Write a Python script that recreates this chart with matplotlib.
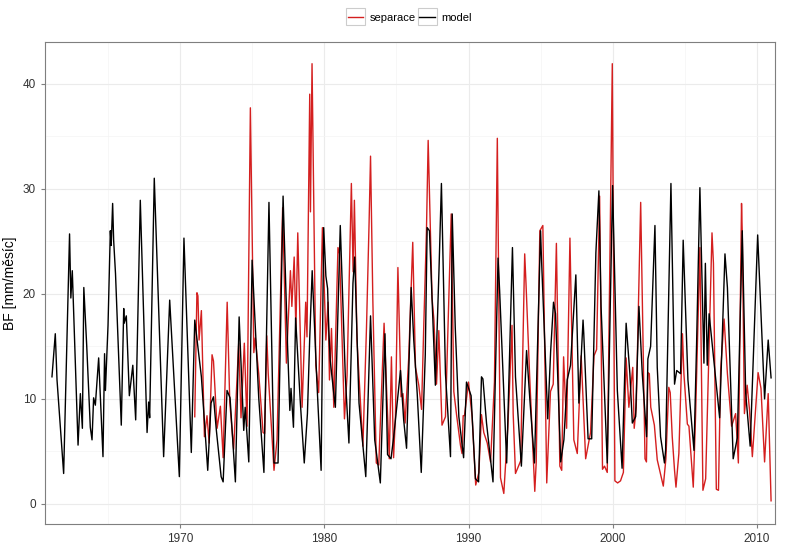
import matplotlib
matplotlib.use("Agg")
import matplotlib.pyplot as plt
from matplotlib.patches import Rectangle
from matplotlib.ticker import MultipleLocator

# model (black): fractional year, BF [mm/month]
model_t = [
    1961.09, 1961.32, 1961.44, 1961.9, 1962.31, 1962.4, 1962.5, 1962.9, 1963.06, 1963.2,
    1963.3, 1963.5, 1963.75, 1963.87, 1963.98, 1964.1, 1964.33, 1964.63, 1964.74, 1964.8,
    1964.98, 1965.14, 1965.2, 1965.3, 1965.37, 1965.5, 1965.9, 1966.07, 1966.1, 1966.25,
    1966.46, 1966.7, 1966.9, 1967.22, 1967.69, 1967.8, 1967.87, 1968.19, 1968.84, 1969.26,
    1969.93, 1970.25, 1970.76, 1971.0, 1971.46, 1971.9, 1972.13, 1972.3, 1972.5, 1972.83,
    1972.97, 1973.24, 1973.45, 1973.82, 1974.08, 1974.4, 1974.5, 1974.75, 1974.98, 1975.44,
    1975.8, 1976.15, 1976.5, 1976.78, 1977.13, 1977.44, 1977.6, 1977.68, 1977.85, 1978.0,
    1978.33, 1978.6, 1978.82, 1978.98, 1979.15, 1979.47, 1979.77, 1979.95, 1980.1, 1980.22,
    1980.3, 1980.4, 1980.65, 1980.76, 1981.1, 1981.45, 1981.7, 1981.98, 1982.1, 1982.4,
    1982.87, 1983.2, 1983.49, 1983.88, 1984.2, 1984.38, 1984.62, 1984.8, 1985.28, 1985.5,
    1985.7, 1986.02, 1986.2, 1986.44, 1986.72, 1987.0, 1987.13, 1987.29, 1987.7, 1987.95,
    1988.12, 1988.4, 1988.75, 1988.87, 1989.08, 1989.33, 1989.66, 1989.86, 1990.18, 1990.48,
    1990.7, 1990.9, 1991.0, 1991.25, 1991.7, 1992.05, 1992.16, 1992.65, 1993.05, 1993.26,
    1993.67, 1994.03, 1994.26, 1994.58, 1995.0, 1995.07, 1995.5, 1995.7, 1995.9, 1996.04,
    1996.4, 1996.62, 1996.85, 1997.08, 1997.45, 1997.66, 1997.95, 1998.0, 1998.3, 1998.55,
    1998.84, 1999.05, 1999.2, 1999.63, 2000.0, 2000.33, 2000.66, 2000.94, 2001.2, 2001.37,
    2001.6, 2001.83, 2002.06, 2002.36, 2002.45, 2002.64, 2002.94, 2003.1, 2003.33, 2003.6,
    2003.68, 2004.05, 2004.3, 2004.45, 2004.72, 2004.9, 2005.23, 2005.65, 2005.83, 2006.06,
    2006.34, 2006.44, 2006.57, 2006.7, 2007.43, 2007.8, 2007.97, 2008.37, 2008.66, 2009.0,
    2009.24, 2009.55, 2010.07, 2010.55, 2010.8, 2011.0,
]
model_v = [
    12.1, 16.2, 11.8, 2.9, 25.7, 19.6, 22.2, 5.6, 10.5, 7.2,
    20.6, 15.1, 7.3, 6.1, 10.1, 9.4, 13.9, 4.5, 14.3, 10.8,
    17.0, 26.0, 24.6, 28.6, 25.1, 21.9, 7.5, 18.6, 17.2, 17.9,
    10.3, 13.2, 8.0, 28.9, 6.8, 9.7, 8.2, 31.0, 4.5, 19.4,
    2.6, 25.3, 4.9, 17.5, 12.1, 3.2, 9.6, 10.2, 7.0, 2.6,
    2.1, 10.8, 10.1, 2.1, 17.8, 7.0, 9.2, 4.0, 23.2, 10.1,
    3.0, 28.7, 3.9, 3.9, 29.3, 15.1, 8.9, 11.0, 7.3, 17.7,
    9.6, 3.9, 8.6, 15.8, 22.2, 11.8, 3.2, 26.3, 21.7, 20.5,
    16.7, 13.7, 10.5, 9.2, 26.5, 12.1, 5.8, 21.0, 23.5, 9.6,
    2.6, 17.9, 6.1, 2.0, 16.2, 4.7, 4.3, 6.3, 12.7, 8.0,
    5.3, 20.6, 15.6, 10.5, 3.0, 14.2, 26.3, 26.0, 11.3, 22.2,
    30.5, 12.4, 4.5, 27.6, 16.8, 8.3, 4.4, 11.6, 10.3, 2.4,
    2.1, 12.1, 11.9, 7.7, 2.1, 23.4, 20.3, 3.9, 24.4, 12.1,
    3.6, 14.6, 9.9, 3.9, 26.0, 23.2, 8.1, 14.5, 19.2, 18.1,
    4.0, 6.1, 11.8, 13.2, 21.8, 9.6, 17.5, 16.2, 6.2, 6.2,
    23.9, 29.8, 18.8, 3.9, 30.3, 10.8, 3.4, 17.2, 12.4, 7.7,
    8.3, 18.8, 12.4, 6.4, 13.8, 15.0, 26.5, 13.0, 6.4, 3.9,
    5.1, 30.5, 11.4, 12.7, 12.4, 25.1, 11.8, 5.1, 15.2, 30.1,
    13.4, 22.9, 13.2, 18.1, 8.2, 23.8, 20.6, 4.3, 6.3, 26.0,
    10.5, 5.5, 25.6, 10.0, 15.6, 12.0,
]

# separace (red)
sep_t = [
    1971.0, 1971.15, 1971.22, 1971.3, 1971.46, 1971.67, 1971.85, 1972.0, 1972.2, 1972.3,
    1972.55, 1972.78, 1972.97, 1973.25, 1973.43, 1973.7, 1974.05, 1974.21, 1974.44, 1974.63,
    1974.86, 1975.1, 1975.2, 1975.44, 1975.74, 1975.85, 1976.0, 1976.1, 1976.5, 1976.71,
    1977.1, 1977.36, 1977.64, 1977.74, 1977.9, 1978.02, 1978.15, 1978.45, 1978.7, 1978.79,
    1978.98, 1979.03, 1979.14, 1979.4, 1979.6, 1979.86, 1980.1, 1980.25, 1980.35, 1980.49,
    1980.65, 1980.94, 1981.05, 1981.39, 1981.57, 1981.87, 1981.99, 1982.08, 1982.26, 1982.67,
    1982.92, 1983.1, 1983.2, 1983.36, 1983.6, 1983.77, 1984.14, 1984.5, 1984.65, 1984.8,
    1984.93, 1985.1, 1985.32, 1985.45, 1985.6, 1985.85, 1986.13, 1986.32, 1986.55, 1986.74,
    1986.9, 1987.08, 1987.2, 1987.47, 1987.6, 1987.78, 1987.94, 1988.16, 1988.4, 1988.8,
    1988.98, 1989.17, 1989.44, 1989.55, 1989.63, 1989.72, 1990.0, 1990.25, 1990.5, 1990.72,
    1990.9, 1991.06, 1991.3, 1991.53, 1991.8, 1992.0, 1992.1, 1992.22, 1992.45, 1992.73,
    1993.02, 1993.1, 1993.26, 1993.62, 1993.9, 1993.99, 1994.24, 1994.6, 1994.7, 1994.95,
    1995.16, 1995.43, 1995.69, 1995.88, 1996.1, 1996.34, 1996.47, 1996.6, 1996.81, 1997.04,
    1997.31, 1997.55, 1997.82, 1998.13, 1998.47, 1998.71, 1998.89, 1999.1, 1999.3, 1999.44,
    1999.63, 1999.98, 2000.16, 2000.35, 2000.55, 2000.75, 2000.94, 2001.13, 2001.4, 2001.5,
    2001.64, 2001.95, 2002.25, 2002.35, 2002.45, 2002.55, 2002.65, 2002.9, 2003.1, 2003.52,
    2003.7, 2003.9, 2004.0, 2004.14, 2004.3, 2004.4, 2004.6, 2004.85, 2004.95, 2005.19,
    2005.3, 2005.6, 2005.76, 2006.06, 2006.27, 2006.46, 2006.9, 2007.0, 2007.2, 2007.35,
    2007.5, 2007.74, 2007.97, 2008.26, 2008.54, 2008.73, 2008.95, 2009.0, 2009.15, 2009.34,
    2009.5, 2009.7, 2010.1, 2010.3, 2010.55, 2010.8, 2011.0,
]
sep_v = [
    8.3, 20.1, 19.8, 15.6, 18.4, 6.4, 8.4, 5.8, 14.2, 13.6,
    7.2, 9.3, 4.4, 19.2, 9.7, 5.2, 15.3, 8.2, 15.3, 7.4,
    37.7, 14.4, 15.8, 12.4, 6.8, 6.7, 16.0, 12.4, 3.2, 6.1,
    28.2, 13.4, 22.2, 18.8, 23.5, 16.5, 25.8, 9.2, 19.2, 15.9,
    39.0, 27.8, 41.9, 13.2, 10.6, 26.3, 15.6, 19.2, 11.8, 16.7,
    9.2, 24.4, 23.8, 8.1, 12.2, 30.5, 22.1, 28.9, 15.6, 5.5,
    16.8, 26.8, 33.1, 19.4, 3.9, 3.7, 17.2, 4.3, 14.0, 4.4,
    8.4, 22.5, 10.2, 10.5, 7.7, 13.9, 24.9, 13.0, 11.3, 9.0,
    17.2, 25.9, 34.6, 19.6, 17.5, 11.4, 16.5, 7.5, 8.3, 27.6,
    10.7, 8.5, 5.6, 4.8, 8.4, 8.4, 11.6, 8.3, 1.8, 3.0,
    8.5, 6.8, 5.8, 4.0, 11.6, 34.8, 20.3, 2.5, 1.0, 7.3,
    17.0, 8.6, 2.9, 4.1, 23.8, 21.0, 12.3, 1.2, 4.0, 26.0,
    26.5, 2.0, 10.7, 11.4, 24.8, 3.6, 3.2, 14.0, 7.2, 25.3,
    6.1, 4.8, 14.1, 4.3, 6.8, 14.1, 14.7, 29.3, 3.3, 3.6,
    3.0, 41.9, 2.2, 2.0, 2.2, 3.0, 13.9, 9.2, 13.0, 7.2,
    9.2, 28.7, 4.3, 4.0, 12.5, 12.4, 9.2, 7.5, 4.2, 1.7,
    4.3, 11.1, 10.6, 6.4, 3.2, 1.6, 4.8, 16.2, 12.4, 7.6,
    7.4, 1.6, 8.4, 24.4, 1.3, 2.4, 25.8, 22.9, 1.4, 1.3,
    12.7, 17.6, 12.4, 7.4, 8.6, 3.9, 28.6, 25.8, 8.6, 11.3,
    9.0, 4.5, 12.5, 11.0, 4.0, 10.5, 0.3,
]

year_ticks = [1970, 1980, 1990, 2000, 2010]
bf_ticks = [0, 10, 20, 30, 40]

plt.rcParams['font.family'] = ['Liberation Sans', 'DejaVu Sans']

fig = plt.figure(figsize=(7.88, 5.55), dpi=100)
ax = fig.add_axes([0.057, 0.056, 0.927, 0.869])

ax.plot(sep_t, sep_v, color='#d41f1f', linewidth=1.0, zorder=3)
ax.plot(model_t, model_v, color='black', linewidth=1.0, zorder=4)

ax.set_xlim(1960.6, 2011.3)
ax.set_ylim(-1.9, 44.0)
ax.set_xticks(year_ticks)
ax.set_yticks(bf_ticks)
ax.xaxis.set_minor_locator(MultipleLocator(5))
ax.yaxis.set_minor_locator(MultipleLocator(5))
ax.grid(True, which='major', color='#ebebeb', linewidth=0.8, zorder=0)
ax.grid(True, which='minor', color='#f4f4f4', linewidth=0.5, zorder=0)
ax.set_axisbelow(True)
ax.tick_params(which='major', length=3, color='#7f7f7f', labelsize=8.5, labelcolor='#333333')
ax.tick_params(which='minor', length=0)
for s in ax.spines.values():
    s.set_color('#7f7f7f')
    s.set_linewidth(0.8)

ax.set_ylabel('BF [mm/měsíc]', fontsize=10)

h_s, h_m = ax.get_lines()
leg = fig.legend([h_s, h_m], ['separace', 'model'], loc='upper center',
                 bbox_to_anchor=(0.52, 0.995), ncol=2, frameon=False, fontsize=8,
                 handlelength=1.4, columnspacing=0.3, handletextpad=0.6)

# ggplot-like boxes around the legend keys
fig.canvas.draw()
for ln in leg.get_lines():
    bb = ln.get_window_extent(fig.canvas.get_renderer())
    cx, cy = (bb.x0 + bb.x1) / 2, (bb.y0 + bb.y1) / 2
    w, h = 19, 17
    fig.patches.append(Rectangle((cx - w / 2, cy - h / 2), w, h, transform=None,
                                 fill=False, edgecolor='#cccccc', linewidth=0.8))

fig.savefig('out.png', dpi=100)
